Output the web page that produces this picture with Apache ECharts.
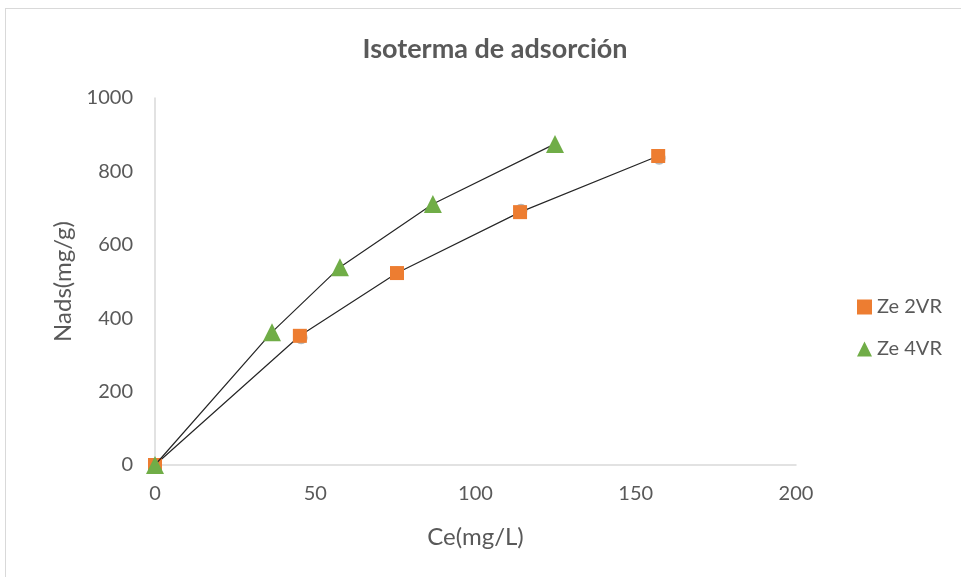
<!DOCTYPE html>
<html>
<head>
<meta charset="utf-8">
<script src="https://cdn.jsdelivr.net/npm/echarts@6/dist/echarts.min.js"></script>
<style>
  html, body { margin: 0; padding: 0; background: #fff; }
  #frame { position: absolute; left: 5px; top: 8px; width: 980px; height: 600px; border: 1px solid #d9d9d9; box-sizing: border-box; }
  #chart { position: absolute; left: 0; top: 0; width: 961px; height: 577px; }
</style>
</head>
<body>
<div id="frame"></div>
<div id="chart"></div>
<script>
// Adsorption isotherm data: Ce (mg/L) vs Nads (mg/g)
const ce2VR = [0, 45.2, 75.5, 113.9, 157];
const nads2VR = [0, 352, 523, 689, 842];
const ce4VR = [0, 36.5, 57.7, 86.7, 124.8];
const nads4VR = [0, 362, 539, 711, 875];
// replicate readings sitting under the Ze 2VR markers
const ceRep = [0, 45.6, 75.5, 114.2, 157.3];
const nadsRep = [0, 347, 523, 694, 836];

const xTicks = [0, 50, 100, 150, 200];
const yTicks = [0, 200, 400, 600, 800, 1000];

const zip = (xs, ys) => xs.map((x, i) => [x, ys[i]]);
const font = 'Lato, "Open Sans", sans-serif';
const grey = '#595959';

const chart = echarts.init(document.getElementById('chart'));
chart.setOption({
  animation: false,
  title: {
    text: 'Isoterma de adsorción',
    left: 490, top: 31, textAlign: 'center',
    textStyle: { fontFamily: font, fontSize: 27, fontWeight: 'bold', color: grey }
  },
  legend: {
    orient: 'vertical', left: 852, top: 292, itemGap: 22,
    itemWidth: 15, itemHeight: 15,
    data: [
      { name: 'Ze 2VR', icon: 'rect' },
      { name: 'Ze 4VR', icon: 'triangle' }
    ],
    textStyle: { fontFamily: font, fontSize: 20, color: grey }
  },
  grid: { left: 155, right: 165, top: 98, bottom: 112 },
  xAxis: {
    type: 'value', min: xTicks[0], max: xTicks[xTicks.length - 1], interval: 50,
    name: 'Ce(mg/L)', nameLocation: 'middle', nameGap: 60,
    nameTextStyle: { fontFamily: font, fontSize: 24, color: grey },
    axisLine: { lineStyle: { color: '#d9d9d9', width: 1.5 } },
    axisTick: { show: false },
    splitLine: { show: false },
    axisLabel: { fontFamily: font, fontSize: 20, color: grey, margin: 19, formatter: v => String(v) }
  },
  yAxis: {
    type: 'value', min: yTicks[0], max: yTicks[yTicks.length - 1], interval: 200,
    name: 'Nads(mg/g)', nameLocation: 'middle', nameGap: 78,
    nameTextStyle: { fontFamily: font, fontSize: 24, color: grey },
    axisLine: { show: true, lineStyle: { color: '#d9d9d9', width: 1.5 } },
    axisTick: { show: false },
    splitLine: { show: false },
    axisLabel: { fontFamily: font, fontSize: 20, color: grey, margin: 22, formatter: v => String(v) }
  },
  series: [
    {
      name: 'rep', type: 'scatter', data: zip(ceRep, nadsRep),
      symbol: 'circle', symbolSize: 13, z: 1,
      itemStyle: { color: '#a5a5a5' }
    },
    {
      name: 'Ze 2VR', type: 'line', data: zip(ce2VR, nads2VR),
      symbol: 'rect', symbolSize: 14, z: 3,
      lineStyle: { color: '#262626', width: 1.2 },
      itemStyle: { color: '#ed7d31' }
    },
    {
      name: 'Ze 4VR', type: 'line', data: zip(ce4VR, nads4VR),
      symbol: 'triangle', symbolSize: 18, z: 4,
      lineStyle: { color: '#262626', width: 1.2 },
      itemStyle: { color: '#70ad47' }
    }
  ]
});
</script>
</body>
</html>
